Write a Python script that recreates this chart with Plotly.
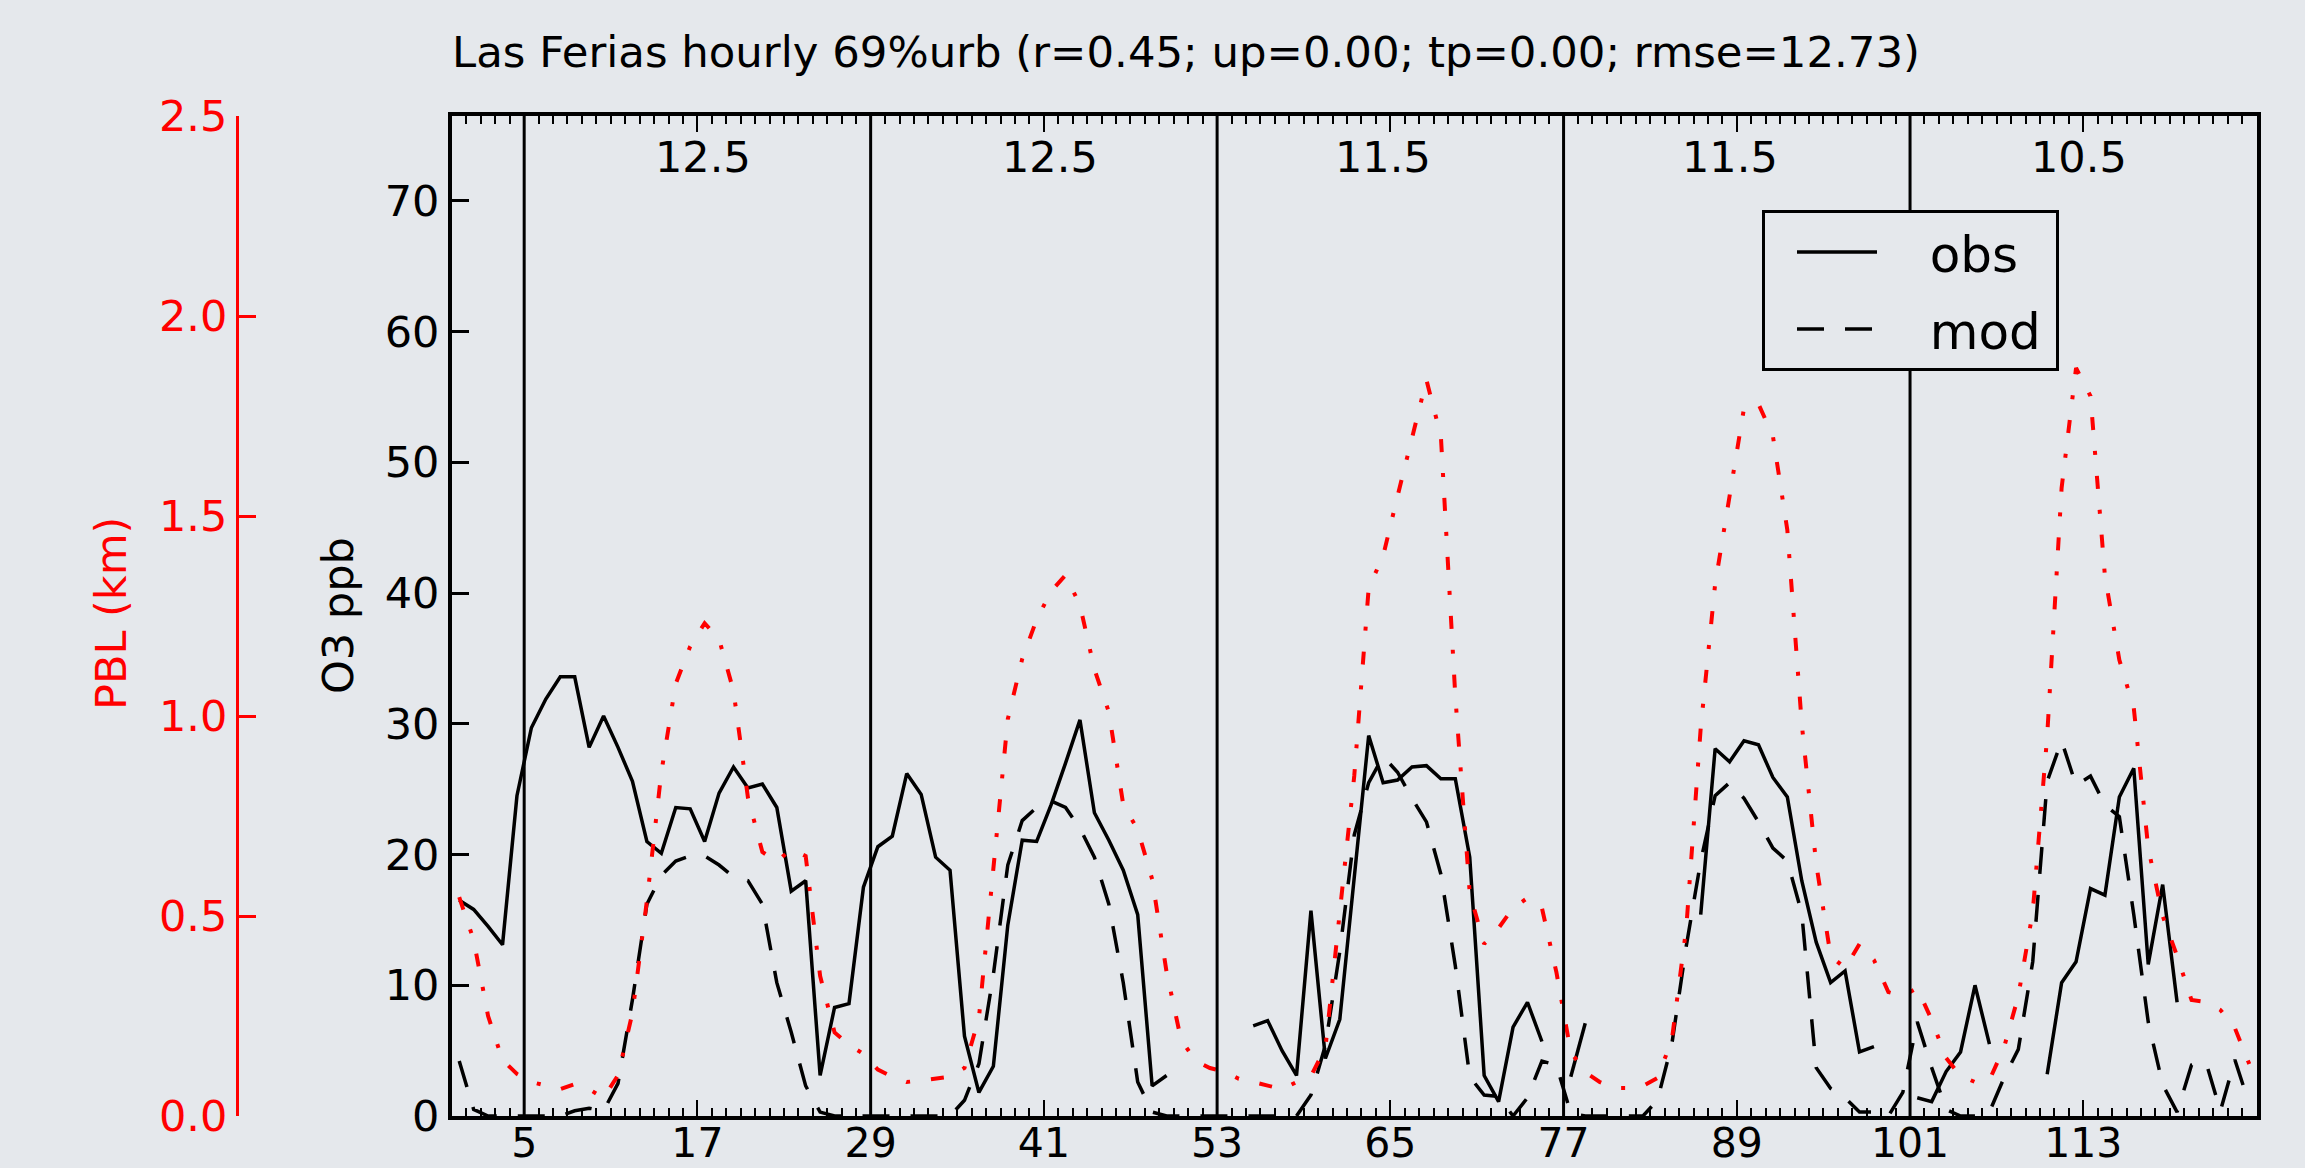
import plotly.graph_objects as go

# ---------------- data ----------------
hours = [i + 0.5 for i in range(125)]

obs = [16.5, 15.8, 14.5, 13.1, 24.5, 29.7, 31.9, 33.6, 33.6, 28.2,
       30.6, 28.2, 25.6, 21.0, 20.1, 23.6, 23.5, 21.0, 24.7, 26.7,
       25.1, 25.4, 23.6, 17.2, 18.0, 3.1, 8.3, 8.6, 17.5, 20.6,
       21.4, 26.2, 24.6, 19.8, 18.8, 6.1, 1.8, 3.8, 14.6, 21.1,
       21.0, 23.8, 27.0, 30.3, 23.2, 21.1, 18.8, 15.4, 2.3, 3.1,
       None, None, None, None, None, 6.9, 7.3, 5.0, 3.1, 15.7,
       4.4, 7.4, 18.0, 29.1, 25.5, 25.7, 26.7, 26.8, 25.8, 25.8,
       19.8, 3.1, 1.1, 6.8, 8.7, 5.7, None, 3.0, 7.1, None,
       None, None, None, None, None, None, 15.4, 28.1, 27.1, 28.7,
       28.4, 25.9, 24.4, 18.0, 13.3, 10.2, 11.1, 4.9, 5.3, None,
       None, 1.4, 1.1, 3.4, 4.9, 10.0, 5.5, None, None, None,
       3.2, 10.2, 11.8, 17.4, 16.9, 24.4, 26.6, 11.6, 17.7, 8.7,
       None, None, None, None, None]

mod = [4.2, 0.5, 0.0, 0.0, 0.0, 0.0, 0.0, 0.0, 0.4, 0.6,
       0.4, 2.5, 8.9, 16.2, 18.4, 19.5, 19.9, 19.9, 19.2, 18.3,
       18.0, 16.2, 10.2, 6.4, 2.3, 0.3, 0.0, 0.0, 0.0, 0.0,
       0.0, 0.0, 0.0, 0.0, 0.0, 1.2, 4.0, 10.8, 19.2, 22.6,
       23.6, 24.1, 23.6, 22.0, 19.8, 16.2, 10.2, 2.6, 0.3, 0.0,
       0.0, 0.0, 0.0, 0.0, 0.0, 0.0, 0.0, 0.0, 0.0, 1.6,
       5.4, 12.6, 21.5, 25.5, 27.5, 26.3, 24.3, 22.5, 18.5, 11.5,
       3.0, 1.6, 1.5, 0.0, 1.4, 4.2, 3.9, 0.2, 0.0, 0.0,
       0.0, 0.0, 0.0, 1.2, 5.5, 13.0, 19.5, 24.5, 25.5, 24.3,
       22.5, 20.5, 19.5, 15.5, 3.7, 2.1, 1.4, 0.3, 0.3, 0.0,
       1.8, 7.2, 3.7, 0.5, 0.0, 0.0, 0.3, 2.9, 5.1, 11.8,
       25.6, 28.7, 25.3, 26.0, 23.8, 22.9, 15.4, 7.2, 2.4, 0.3,
       3.9, 4.1, 0.4, 4.3, 0.9]

pbl_km = [0.547, 0.44, 0.25, 0.14, 0.105, 0.085, 0.076, 0.067, 0.080, 0.067,
          0.045, 0.102, 0.258, 0.538, 0.859, 1.081, 1.174, 1.232, 1.192, 1.063,
          0.796, 0.660, 0.636, 0.667, 0.650, 0.350, 0.209, 0.178, 0.155, 0.116,
          0.098, 0.085, 0.089, 0.093, 0.098, 0.120, 0.245, 0.618, 0.992, 1.143,
          1.241, 1.312, 1.352, 1.277, 1.117, 1.010, 0.778, 0.716, 0.592, 0.360,
          0.191, 0.138, 0.120, 0.111, 0.093, 0.085, 0.075, 0.067, 0.085, 0.100,
          0.170, 0.500, 0.850, 1.320, 1.400, 1.550, 1.690, 1.840, 1.700, 1.050,
          0.557, 0.430, 0.470, 0.520, 0.545, 0.520, 0.360, 0.160, 0.110, 0.085,
          0.070, 0.070, 0.075, 0.095, 0.190, 0.470, 0.970, 1.330, 1.550, 1.770,
          1.780, 1.700, 1.465, 0.980, 0.630, 0.400, 0.370, 0.430, 0.390, 0.310,
          0.300, 0.320, 0.240, 0.145, 0.100, 0.085, 0.090, 0.170, 0.300, 0.510,
          0.950, 1.570, 1.870, 1.800, 1.350, 1.140, 1.020, 0.670, 0.500, 0.400,
          0.290, 0.285, 0.265, 0.220, 0.130]

day_bounds = [5, 29, 53, 77, 101]
label_hours = [17.4, 41.4, 64.5, 88.5, 112.7]
day_labels = ["12.5", "12.5", "11.5", "11.5", "10.5"]
xtick_vals = [5, 17, 29, 41, 53, 65, 77, 89, 101, 113]
o3_ticks = [0, 10, 20, 30, 40, 50, 60, 70]
pbl_ticks = [0.0, 0.5, 1.0, 1.5, 2.0, 2.5]
series_names = ["obs", "mod"]
title_text = "Las Ferias hourly 69%urb (r=0.45; up=0.00; tp=0.00; rmse=12.73)"

# ---------------- layout geometry (pixels of a 2305x1168 page) ----------------
W, H = 2305, 1168
PL, PR, PT, PB = 452, 2256.5, 116, 1116
BG = "#e5e8ec"
FONT = "DejaVu Sans"
FS = 43
NB = "\u00a0"
NNB = "\u202f"


def px_x(p):
    return p / W


def px_y(p):
    return 1 - p / H


fig = go.Figure()

fig.add_trace(go.Scatter(
    x=hours, y=pbl_km, yaxis="y2", mode="lines", showlegend=False,
    line=dict(color="red", width=4, dash="13px,21px,4px,21px"),
    connectgaps=False, hoverinfo="skip"))

fig.add_trace(go.Scatter(
    x=hours, y=obs, mode="lines", name=NB * 3 + series_names[0] + NNB, legendgroup="a",
    line=dict(color="black", width=3.5), connectgaps=False))

fig.add_trace(go.Scatter(
    x=hours, y=mod, mode="lines", name=NB * 3 + series_names[1] + NNB, legendgroup="b",
    line=dict(color="black", width=3.5, dash="27px,21px"), connectgaps=False))

shapes = [dict(type="line", xref="x", yref="y domain", x0=d, x1=d, y0=0, y1=1,
               line=dict(color="black", width=3), layer="above")
          for d in day_bounds]

annotations = [dict(x=h, y=px_y(157), xref="x", yref="paper", text=t,
                    showarrow=False, xanchor="center", yanchor="middle",
                    font=dict(family=FONT, size=FS, color="black"))
               for h, t in zip(label_hours, day_labels)]
annotations.append(dict(x=px_x(338), y=px_y(616), xref="paper", yref="paper",
                        text="O3 ppb", textangle=-90, showarrow=False,
                        xanchor="center", yanchor="middle",
                        font=dict(family=FONT, size=FS, color="black")))
annotations.append(dict(x=px_x(111), y=px_y(614), xref="paper", yref="paper",
                        text="PBL (km)", textangle=-90, showarrow=False,
                        xanchor="center", yanchor="middle",
                        font=dict(family=FONT, size=FS, color="red")))

fig.update_layout(
    width=W, height=H,
    margin=dict(l=0, r=0, t=0, b=0, pad=0),
    paper_bgcolor=BG, plot_bgcolor=BG,
    font=dict(family=FONT, size=FS, color="black"),
    title=dict(text=title_text, x=px_x(452), xanchor="left", xref="paper",
               y=px_y(52), yanchor="middle", yref="paper",
               font=dict(family=FONT, size=43.4, color="black")),
    xaxis=dict(domain=[px_x(PL), px_x(PR)], range=[0, 125],
               tickmode="array", tickvals=xtick_vals,
               ticks="inside", ticklen=16, tickwidth=2, tickcolor="black",
               minor=dict(tickmode="linear", tick0=0, dtick=1, ticks="inside",
                          ticklen=8, tickwidth=2, tickcolor="black"),
               showline=True, linecolor="black", linewidth=4, mirror="ticks",
               showgrid=False, zeroline=False, automargin=False,
               ticklabelstandoff=-12,
               tickfont=dict(family=FONT, size=41, color="black")),
    yaxis=dict(domain=[px_y(PB), px_y(PT)], range=[0, 76.5],
               tickmode="array", tickvals=o3_ticks,
               ticks="inside", ticklen=17, tickwidth=3, tickcolor="black",
               showline=True, linecolor="black", linewidth=4, mirror=True,
               showgrid=False, zeroline=False, automargin=False,
               tickfont=dict(family=FONT, size=FS, color="black")),
    yaxis2=dict(overlaying="y", side="left", anchor="free", position=px_x(237),
                range=[0, 2.5], tickmode="array", tickvals=pbl_ticks,
                tickformat=".1f", ticks="inside", ticklen=17, tickwidth=3,
                tickcolor="red", showline=True, linecolor="red", linewidth=3,
                showgrid=False, zeroline=False, automargin=False,
                tickfont=dict(family=FONT, size=FS, color="red")),
    legend=dict(x=px_x(1762), y=px_y(210), xanchor="left", yanchor="top",
                xref="paper", yref="paper",
                bgcolor=BG, bordercolor="black", borderwidth=3,
                font=dict(family=FONT, size=50, color="black"),
                itemwidth=80, indentation=27, tracegroupgap=9,
                traceorder="grouped"),
    shapes=shapes,
    annotations=annotations,
    showlegend=True,
)

fig.write_html("out.html", config={"displayModeBar": False},
               post_script="document.body.style.margin='0';document.body.style.overflow='hidden';")
